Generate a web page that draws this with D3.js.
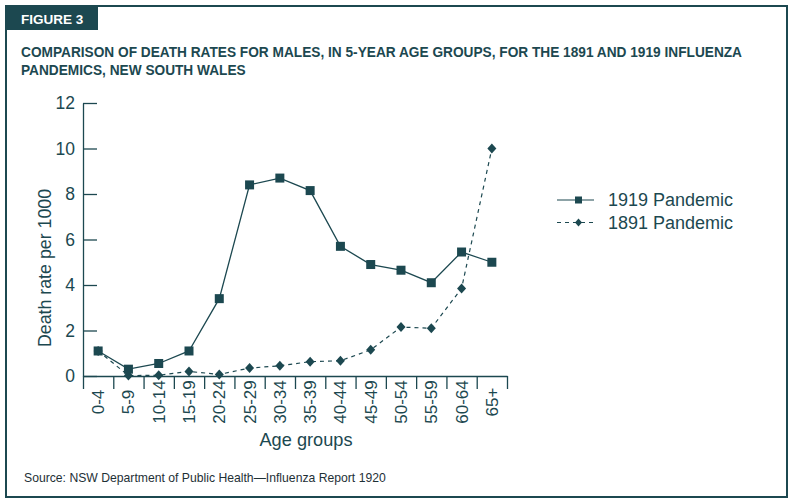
<!DOCTYPE html>
<html>
<head>
<meta charset="utf-8">
<script src="https://cdn.jsdelivr.net/npm/d3@7"></script>
<style>
  body { margin: 0; background: #fff; }
  text { font-family: "Liberation Sans", Arial, sans-serif; }
</style>
</head>
<body>
<svg id="chart" width="795" height="504"></svg>
<script>
// data
var ageGroups = ["0-4","5-9","10-14","15-19","20-24","25-29","30-34","35-39",
                 "40-44","45-49","50-54","55-59","60-64","65+"];
var rates1919 = [1.1, 0.3, 0.55, 1.1, 3.4, 8.4, 8.7, 8.15, 5.7, 4.9, 4.65, 4.1, 5.45, 5.0];
var rates1891 = [1.1, 0.02, 0.03, 0.2, 0.07, 0.35, 0.45, 0.63, 0.67, 1.15, 2.15, 2.1, 3.85, 10.0];
var yTicks = [0, 2, 4, 6, 8, 10, 12];
var seriesNames = ["1919 Pandemic", "1891 Pandemic"];

var ink = "#1c4850";
var svg = d3.select("#chart");

// frame + tab
svg.append("rect").attr("x", 6).attr("y", 6).attr("width", 781).attr("height", 491)
   .attr("fill", "none").attr("stroke", ink).attr("stroke-width", 2);
svg.append("rect").attr("x", 5).attr("y", 5).attr("width", 93).attr("height", 25).attr("fill", ink);
svg.append("text").attr("x", 21).attr("y", 23.5).attr("fill", "#fff")
   .attr("font-size", 13.5).attr("font-weight", "bold").text("FIGURE 3");

// title (squeezed a bit, original is a condensed face)
var t1 = svg.append("text").attr("x", 21).attr("y", 57).attr("fill", ink)
   .attr("font-size", 13.8).attr("font-weight", "bold")
   .text("COMPARISON OF DEATH RATES FOR MALES, IN 5-YEAR AGE GROUPS, FOR THE 1891 AND 1919 INFLUENZA");
var t2 = svg.append("text").attr("x", 21).attr("y", 75).attr("fill", ink)
   .attr("font-size", 13.8).attr("font-weight", "bold")
   .text("PANDEMICS, NEW SOUTH WALES");
var squeeze = 721 / t1.node().getComputedTextLength();
t1.attr("textLength", 721).attr("lengthAdjust", "spacingAndGlyphs");
t2.attr("textLength", t2.node().getComputedTextLength() * squeeze).attr("lengthAdjust", "spacingAndGlyphs");

// scales
var x = d3.scaleBand().domain(ageGroups).range([83, 507]).padding(0);
var xEdges = d3.scaleLinear().domain([0, ageGroups.length]).range([83, 507]);
var y = d3.scaleLinear().domain([0, 12]).range([376, 103]);

// y axis, ticks point inward
var yAxis = svg.append("g").attr("transform", "translate(83,0)")
   .call(d3.axisLeft(y).tickValues(yTicks).tickSizeInner(-14).tickSizeOuter(0).tickPadding(8));
yAxis.selectAll("text").attr("font-size", 17.5).attr("fill", ink).attr("font-family", null);
yAxis.selectAll("line, path").attr("stroke", ink).attr("stroke-width", 1.3);

// x axis: boundary ticks
var xAxis = svg.append("g").attr("transform", "translate(0,376)")
   .call(d3.axisBottom(xEdges).tickValues(d3.range(ageGroups.length + 1)).tickFormat("").tickSizeInner(13).tickSizeOuter(0));
xAxis.selectAll("line, path").attr("stroke", ink).attr("stroke-width", 1.3);

// x labels, rotated
var xLab = svg.append("g").attr("transform", "translate(0,376)")
   .call(d3.axisBottom(x).tickSize(0));
xLab.select(".domain").remove();
xLab.selectAll("text")
   .attr("font-size", 17).attr("fill", ink).attr("font-family", null)
   .attr("x", 0).attr("y", 0).attr("dy", "0.35em")
   .attr("text-anchor", "middle")
   .attr("transform", "translate(0,26) rotate(-90)");

// axis titles
svg.append("text").attr("x", 306).attr("y", 446).attr("text-anchor", "middle")
   .attr("font-size", 18.2).attr("fill", ink).text("Age groups");
svg.append("text").attr("transform", "translate(51,268) rotate(-90)").attr("text-anchor", "middle")
   .attr("font-size", 17.8).attr("fill", ink).text("Death rate per 1000");

// lines
var line = d3.line()
   .x(function(d, i) { return x(ageGroups[i]) + x.bandwidth() / 2; })
   .y(function(d) { return y(d); });

svg.append("path").datum(rates1891).attr("d", line)
   .attr("fill", "none").attr("stroke", ink).attr("stroke-width", 1.2).attr("stroke-dasharray", "4,4");
svg.append("path").datum(rates1919).attr("d", line)
   .attr("fill", "none").attr("stroke", ink).attr("stroke-width", 1.3);

// squat diamond like the print (about 9 wide, 10 tall)
function diamondPath(w, h) {
  var p = d3.path();
  p.moveTo(0, -h / 2); p.lineTo(w / 2, 0); p.lineTo(0, h / 2); p.lineTo(-w / 2, 0); p.closePath();
  return p.toString();
}

svg.selectAll(".dia").data(rates1891).enter().append("path").attr("class", "dia")
   .attr("d", diamondPath(9, 10))
   .attr("transform", function(d, i) { return "translate(" + (x(ageGroups[i]) + x.bandwidth() / 2) + "," + y(d) + ")"; })
   .attr("fill", ink);

svg.selectAll(".sq").data(rates1919).enter().append("rect").attr("class", "sq")
   .attr("x", function(d, i) { return x(ageGroups[i]) + x.bandwidth() / 2 - 4.5; })
   .attr("y", function(d) { return y(d) - 4.5; })
   .attr("width", 9).attr("height", 9)
   .attr("fill", ink);

// legend
var legend = svg.append("g");
seriesNames.forEach(function(name, i) {
  var ly = 200 + i * 22.5;
  legend.append("line").attr("x1", 557).attr("x2", 594).attr("y1", ly).attr("y2", ly)
     .attr("stroke", ink).attr("stroke-width", 1.2)
     .attr("stroke-dasharray", i === 0 ? null : "4,4");
  if (i === 0) {
    legend.append("rect").attr("x", 575).attr("y", ly - 3.5).attr("width", 7).attr("height", 7).attr("fill", ink);
  } else {
    legend.append("path").attr("d", diamondPath(7, 8))
       .attr("transform", "translate(578.5," + ly + ")").attr("fill", ink);
  }
  legend.append("text").attr("x", 608).attr("y", ly).attr("dy", "0.35em")
     .attr("font-size", 18).attr("fill", ink).text(name);
});

// source
svg.append("text").attr("x", 24).attr("y", 482).attr("font-size", 12.2).attr("fill", "#1e3036")
   .text("Source: NSW Department of Public Health\u2014Influenza Report 1920");
</script>
</body>
</html>
